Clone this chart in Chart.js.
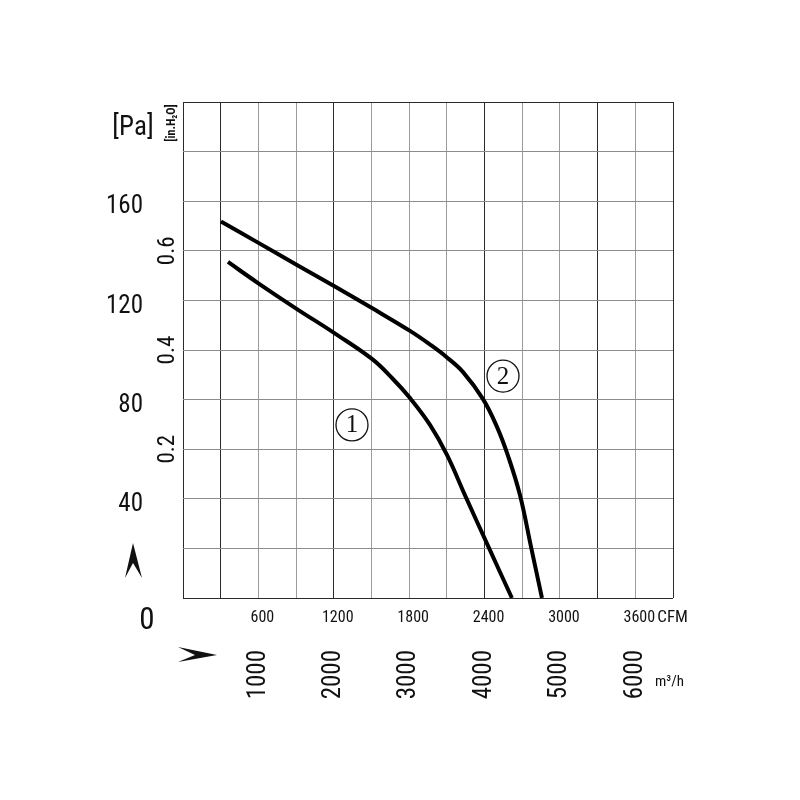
<!DOCTYPE html>
<html>
<head>
<meta charset="utf-8">
<script src="https://cdn.jsdelivr.net/npm/chart.js@4"></script>
<style>
  html, body { margin: 0; padding: 0; background: #fff; }
  #wrap { width: 800px; height: 800px; }
</style>
</head>
<body>
<div id="wrap"><canvas id="fan"></canvas></div>
<script>
// curve (1)
const curve1Cfm = [358, 597, 907, 1202, 1504, 1671, 1807, 1966, 2101, 2244, 2435, 2618];
const curve1Pa  = [135.5, 127.0, 116.5, 106.9, 96.4, 88.3, 80.6, 69.8, 57.7, 41.5, 20.2, 0];
// curve (2)
const curve2Cfm = [302, 597, 907, 1202, 1504, 1807, 1966, 2101, 2229, 2388, 2499, 2587, 2682, 2770, 2857];
const curve2Pa  = [151.8, 143.3, 134.3, 125.8, 116.9, 107.7, 102.2, 97.0, 91.1, 80.2, 69.0, 57.3, 41.5, 20.6, 0];

// tick labels
const paTicks = [40, 80, 120, 160];
const inH2oTicks = [0.2, 0.4, 0.6];
const cfmTicks = [600, 1200, 1800, 2400, 3000, 3600];
const m3hTicks = [1000, 2000, 3000, 4000, 5000, 6000];
// vertical lines that are printed darker
const darkCfmLines = [0, 300, 1200, 2400, 3300, 3900];

// curve numbers
const tagText = ['1', '2'];
const tagCfm = [1345, 2547];
const tagPa = [69.8, 89.5];

const narrow = '"Roboto Condensed", "DejaVu Sans Condensed", sans-serif';

function toPoints(xs, ys) {
  return xs.map((x, i) => ({ x: x, y: ys[i] }));
}

function near(list, v) {
  return list.some(t => Math.abs(t - v) < 1e-6);
}

// everything that is not an axis tick: unit labels, arrows, curve numbers
const extras = {
  id: 'extras',
  afterDraw(chart) {
    const { ctx, chartArea: a, scales } = chart;
    ctx.save();
    ctx.fillStyle = '#111';
    ctx.strokeStyle = '#111';
    ctx.textBaseline = 'middle';

    // [Pa]
    ctx.font = '27px ' + narrow;
    ctx.textAlign = 'center';
    ctx.fillText('[Pa]', a.left - 50, a.top + 26);

    // [in.H2O], rotated
    ctx.save();
    ctx.translate(a.left - 11, a.top + 21);
    ctx.rotate(-Math.PI / 2);
    ctx.font = 'bold 12px ' + narrow;
    ctx.fillText('[in.H\u2082O]', 0, 0);
    ctx.restore();

    // origin 0
    ctx.font = '31px ' + narrow;
    ctx.fillText('0', a.left - 36, a.bottom + 23);

    // units at the end of the x rows
    ctx.textAlign = 'left';
    ctx.font = '17px ' + narrow;
    ctx.fillText('CFM', scales.x.getPixelForValue(3600) + 22, a.bottom + 20);
    ctx.font = '15px ' + narrow;
    ctx.fillText('m\u00b3/h', a.right - 18, a.bottom + 84);

    // up arrow
    let ux = a.left - 50, uy = a.bottom - 55;
    ctx.beginPath();
    ctx.moveTo(ux, uy);
    ctx.lineTo(ux + 9, uy + 35);
    ctx.lineTo(ux, uy + 20);
    ctx.lineTo(ux - 8, uy + 35);
    ctx.closePath();
    ctx.fill();

    // right arrow
    let rx = a.left + 34, ry = a.bottom + 57;
    ctx.beginPath();
    ctx.moveTo(rx, ry);
    ctx.lineTo(rx - 39, ry - 8);
    ctx.lineTo(rx - 22, ry);
    ctx.lineTo(rx - 39, ry + 7);
    ctx.closePath();
    ctx.fill();

    // circled curve numbers
    ctx.lineWidth = 1.3;
    ctx.textAlign = 'center';
    ctx.font = '25px "Liberation Serif", "DejaVu Serif", serif';
    tagText.forEach((t, i) => {
      const cx = scales.x.getPixelForValue(tagCfm[i]);
      const cy = scales.y.getPixelForValue(tagPa[i]);
      ctx.fillStyle = '#fff';
      ctx.beginPath();
      ctx.arc(cx, cy, 16, 0, Math.PI * 2);
      ctx.fill();
      ctx.stroke();
      ctx.fillStyle = '#111';
      ctx.fillText(t, cx, cy + 1);
    });
    ctx.restore();
  }
};

const curveStyle = {
  borderColor: '#000',
  borderWidth: 4,
  pointRadius: 0,
  fill: false,
  tension: 0.4,
  borderCapStyle: 'butt'
};

new Chart(document.getElementById('fan').getContext('2d'), {
  type: 'line',
  data: {
    datasets: [
      Object.assign({ label: '1', data: toPoints(curve1Cfm, curve1Pa) }, curveStyle),
      Object.assign({ label: '2', data: toPoints(curve2Cfm, curve2Pa) }, curveStyle)
    ]
  },
  options: {
    responsive: true,
    maintainAspectRatio: false,
    animation: false,
    layout: { padding: { top: 102, right: 127, bottom: 87, left: 0 } },
    plugins: {
      legend: { display: false },
      tooltip: { enabled: false }
    },
    scales: {
      x: {
        type: 'linear',
        position: 'bottom',
        weight: 0,
        min: 0,
        max: 3900,
        afterFit: s => { s.height = 35; },
        border: { display: false },
        grid: {
          drawTicks: false,
          lineWidth: 1,
          color: c => near(darkCfmLines, c.tick.value) ? '#2a2a2a' : '#9c9c9c'
        },
        ticks: {
          stepSize: 300,
          autoSkip: false,
          maxRotation: 0,
          padding: 10,
          labelOffset: 4,
          color: '#111',
          font: { family: narrow, size: 16 },
          callback: v => near(cfmTicks, v) ? String(v) : ''
        }
      },
      x2: {
        type: 'linear',
        position: 'bottom',
        weight: 1,
        min: 0,
        max: 6500,
        afterBuildTicks: s => { s.ticks = m3hTicks.map(v => ({ value: v })); },
        afterFit: s => { s.height = 80; },
        border: { display: false },
        grid: { display: false, drawTicks: false },
        ticks: {
          autoSkip: false,
          minRotation: 90,
          maxRotation: 90,
          padding: 17,
          color: '#111',
          font: { family: narrow, size: 25 },
          callback: v => String(v)
        }
      },
      y: {
        type: 'linear',
        position: 'left',
        weight: 1,
        min: 0,
        max: 200,
        afterFit: s => { s.width = 150; },
        border: { display: false },
        grid: {
          drawTicks: false,
          lineWidth: 1,
          color: c => (c.tick.value === 0 || c.tick.value === 200) ? '#2a2a2a' : '#8c8c8c'
        },
        ticks: {
          stepSize: 20,
          autoSkip: false,
          padding: 7,
          labelOffset: 6,
          color: '#111',
          font: { family: narrow, size: 25 },
          callback: v => near(paTicks, v) ? String(v) : ''
        }
      },
      y2: {
        type: 'linear',
        position: 'left',
        weight: 0,
        min: -0.1,
        max: 0.9,
        afterBuildTicks: s => { s.ticks = inH2oTicks.map(v => ({ value: v })); },
        afterFit: s => { s.width = 33; },
        border: { display: false },
        grid: { display: false, drawTicks: false },
        ticks: {
          autoSkip: false,
          minRotation: 90,
          maxRotation: 90,
          crossAlign: 'center',
          padding: 0,
          color: '#111',
          font: { family: narrow, size: 23 },
          callback: v => v.toFixed(1)
        }
      }
    }
  },
  plugins: [extras]
});
</script>
</body>
</html>
